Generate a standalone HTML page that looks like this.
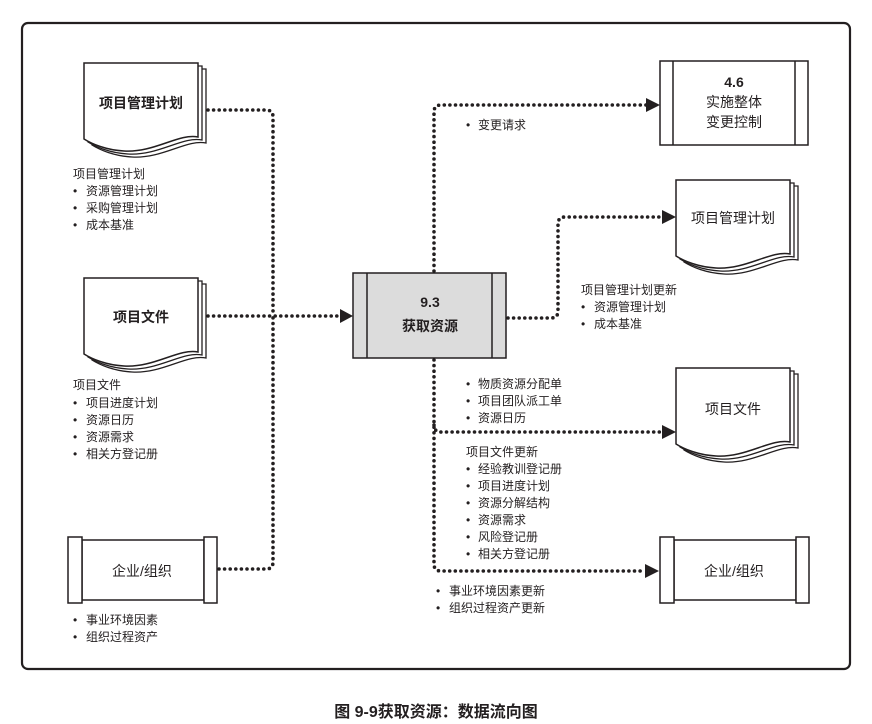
<!DOCTYPE html>
<html><head><meta charset="utf-8"><style>
html,body{margin:0;padding:0;background:#fff}
svg{display:block}
text{font-family:"Liberation Sans","Noto Sans CJK SC",sans-serif;fill:#231f20}
.t{font-size:12px}
.b{font-size:14px;font-weight:bold}
.n{font-size:14px}
.d{fill:none;stroke:#231f20;stroke-width:3.6;stroke-linecap:round;stroke-dasharray:0 5.6}
</style></head><body>
<svg width="872" height="724" viewBox="0 0 872 724" xmlns="http://www.w3.org/2000/svg">
<defs>
<g id="doc">
<path d="M8,6 H122 V80 C103,76 78,96 48,94 C30,93 16,87 8,82 Z" fill="#fff" stroke="#231f20" stroke-width="1.3"/>
<path d="M4,3 H118 V77 C99,73 74,93 44,91 C26,90 12,84 4,79 Z" fill="#fff" stroke="#231f20" stroke-width="1.3"/>
<path d="M0,0 H114 V74 C95,70 70,90 40,88 C22,87 8,81 0,76 Z" fill="#fff" stroke="#231f20" stroke-width="1.5"/>
</g>
<g id="ent">
<rect x="14" y="3" width="122" height="60" fill="#fff" stroke="#231f20" stroke-width="1.5"/>
<rect x="0" y="0" width="14" height="66" fill="#fff" stroke="#231f20" stroke-width="1.5"/>
<rect x="136" y="0" width="13" height="66" fill="#fff" stroke="#231f20" stroke-width="1.5"/>
</g>
</defs>
<rect x="22" y="23" width="828" height="646" rx="6" fill="#fff" stroke="#231f20" stroke-width="2.2"/>

<path class="d" d="M208,110 H266 Q273,110 273,117 V316"/>
<path class="d" d="M208,316 H340"/>
<path class="d" d="M219,569 H266 Q273,569 273,562 V316"/>
<path class="d" d="M434,271 V112 Q434,105 441,105 H646"/>
<path class="d" d="M508,318 H551 Q558,318 558,311 V224 Q558,217 565,217 H662"/>
<path class="d" d="M434,360 V564 Q434,571 441,571 H645"/>
<path class="d" d="M434,425 Q434,432 441,432 H662"/>
<polygon points="340,309 353,316 340,323" fill="#231f20"/>
<polygon points="646,98 660,105 646,112" fill="#231f20"/>
<polygon points="662,210 676,217 662,224" fill="#231f20"/>
<polygon points="662,425 676,432 662,439" fill="#231f20"/>
<polygon points="645,564 659,571 645,578" fill="#231f20"/>

<use href="#doc" x="84" y="63"/>
<text x="141" y="108" class="b" text-anchor="middle">项目管理计划</text>
<use href="#doc" x="84" y="278"/>
<text x="141" y="322" class="b" text-anchor="middle">项目文件</text>
<use href="#ent" x="68" y="537"/>
<text x="142" y="576" class="n" text-anchor="middle">企业/组织</text>

<rect x="353" y="273" width="153" height="85" fill="#dcdcdc" stroke="#231f20" stroke-width="1.5"/>
<line x1="367" y1="273" x2="367" y2="358" stroke="#231f20" stroke-width="1.5"/>
<line x1="492" y1="273" x2="492" y2="358" stroke="#231f20" stroke-width="1.5"/>
<text x="430" y="307" class="b" text-anchor="middle">9.3</text>
<text x="430" y="331" class="b" text-anchor="middle">获取资源</text>

<rect x="660" y="61" width="148" height="84" fill="#fff" stroke="#231f20" stroke-width="1.5"/>
<line x1="673" y1="61" x2="673" y2="145" stroke="#231f20" stroke-width="1.5"/>
<line x1="795" y1="61" x2="795" y2="145" stroke="#231f20" stroke-width="1.5"/>
<text x="734" y="87" class="b" text-anchor="middle">4.6</text>
<text x="734" y="107" class="n" text-anchor="middle">实施整体</text>
<text x="734" y="127" class="n" text-anchor="middle">变更控制</text>
<use href="#doc" x="676" y="180"/>
<text x="733" y="223" class="n" text-anchor="middle">项目管理计划</text>
<use href="#doc" x="676" y="368"/>
<text x="733" y="414" class="n" text-anchor="middle">项目文件</text>
<use href="#ent" x="660" y="537"/>
<text x="734" y="576" class="n" text-anchor="middle">企业/组织</text>

<g class="t">
<text x="73" y="178" class="t">项目管理计划</text>
<text x="73" y="195" class="t">•<tspan x="86">资源管理计划</tspan></text>
<text x="73" y="212" class="t">•<tspan x="86">采购管理计划</tspan></text>
<text x="73" y="229" class="t">•<tspan x="86">成本基准</tspan></text>
<text x="73" y="389" class="t">项目文件</text>
<text x="73" y="407" class="t">•<tspan x="86">项目进度计划</tspan></text>
<text x="73" y="424" class="t">•<tspan x="86">资源日历</tspan></text>
<text x="73" y="441" class="t">•<tspan x="86">资源需求</tspan></text>
<text x="73" y="458" class="t">•<tspan x="86">相关方登记册</tspan></text>
<text x="73" y="624" class="t">•<tspan x="86">事业环境因素</tspan></text>
<text x="73" y="641" class="t">•<tspan x="86">组织过程资产</tspan></text>

<text x="466" y="129" class="t">•<tspan x="478">变更请求</tspan></text>
<text x="581" y="294" class="t">项目管理计划更新</text>
<text x="581" y="311" class="t">•<tspan x="594">资源管理计划</tspan></text>
<text x="581" y="328" class="t">•<tspan x="594">成本基准</tspan></text>
<text x="466" y="388" class="t">•<tspan x="478">物质资源分配单</tspan></text>
<text x="466" y="405" class="t">•<tspan x="478">项目团队派工单</tspan></text>
<text x="466" y="422" class="t">•<tspan x="478">资源日历</tspan></text>
<text x="466" y="456" class="t">项目文件更新</text>
<text x="466" y="473" class="t">•<tspan x="478">经验教训登记册</tspan></text>
<text x="466" y="490" class="t">•<tspan x="478">项目进度计划</tspan></text>
<text x="466" y="507" class="t">•<tspan x="478">资源分解结构</tspan></text>
<text x="466" y="524" class="t">•<tspan x="478">资源需求</tspan></text>
<text x="466" y="541" class="t">•<tspan x="478">风险登记册</tspan></text>
<text x="466" y="558" class="t">•<tspan x="478">相关方登记册</tspan></text>
<text x="436" y="595" class="t">•<tspan x="449">事业环境因素更新</tspan></text>
<text x="436" y="612" class="t">•<tspan x="449">组织过程资产更新</tspan></text>
</g>

<text x="436" y="717" text-anchor="middle" style="font-size:16px;font-weight:bold">图 9-9获取资源：数据流向图</text>
</svg>
</body></html>
